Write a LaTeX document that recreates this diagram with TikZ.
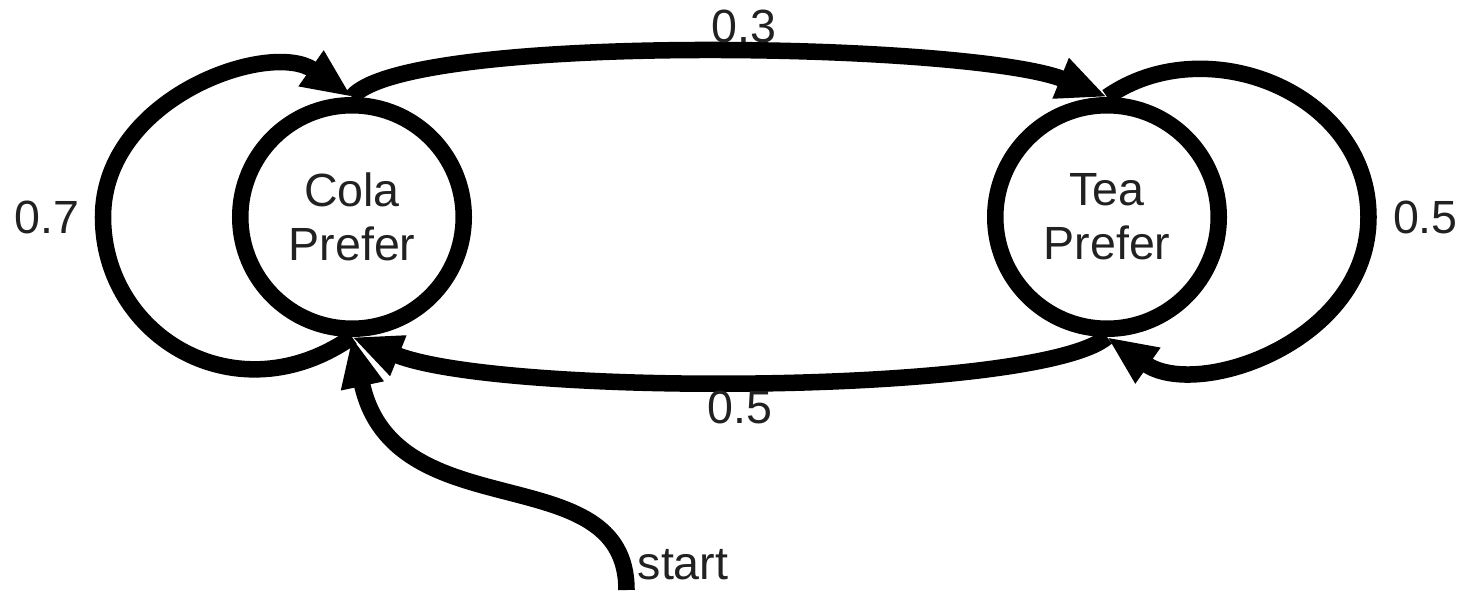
\documentclass[tikz,border=0pt]{standalone}
\usepackage{fontspec}
\setmainfont{Liberation Sans}
\usetikzlibrary{arrows.meta}
\definecolor{labelgray}{gray}{0.13}
\begin{document}
\begin{tikzpicture}[font=\fontsize{26.5}{30.7}\selectfont, text=labelgray]
	\tikzset{state/.style = {shape=circle,draw,line width=9.4pt,minimum size=4.47cm,inner sep=0pt,align=center}}
	\tikzset{trans/.style = {-{Triangle[length=1cm,width=0.8cm]},line width=9.4pt}}
	\tikzset{prob/.style = {inner sep=0.19cm,outer sep=0pt}}
	\useasboundingbox (0,0) rectangle (29.24,-11.8);
	\node[state] (cola) at (7.04,-4.34) {Cola\\Prefer};
	\node[state] (tea) at (22.14,-4.34) {Tea\\Prefer};
	\coordinate (loopL) at (2.06,-4.34);
	\coordinate (loopR) at (27.37,-4.34);
	\coordinate (s0) at (12.53,-11.8);
	% self loops
	\draw[trans] (cola.south) to[out=215,in=-90,out distance=2.8cm,in distance=2.4cm] (loopL) node[prob,left=0.28cm] {0.7}
		to[out=90,in=145,out distance=2.4cm,in distance=2cm] (cola.north);
	\draw[trans] (tea.north) to[out=35,in=90,out distance=2.4cm,in distance=2.5cm] (loopR) node[prob,right=0.3cm] {0.5}
		to[out=-90,in=-35,out distance=2.5cm,in distance=2.2cm] (tea.south);
	% between the two states
	\path (cola.north) edge[trans,out=50,in=158,out distance=1.7cm,in distance=2.9cm] node[prob,above,pos=.545] {0.3} (tea.north);
	\path (tea.south) edge[trans,out=220,in=-22,out distance=1.8cm,in distance=3.2cm] node[prob,below,pos=.52] {0.5} (cola.south);
	% initial arrow
	\path (s0) edge[trans,out=90,in=-78,out distance=2.72cm,in distance=4cm] node[prob,right=0.1cm,pos=.07] {start} (cola.south);
\end{tikzpicture}
\end{document}
